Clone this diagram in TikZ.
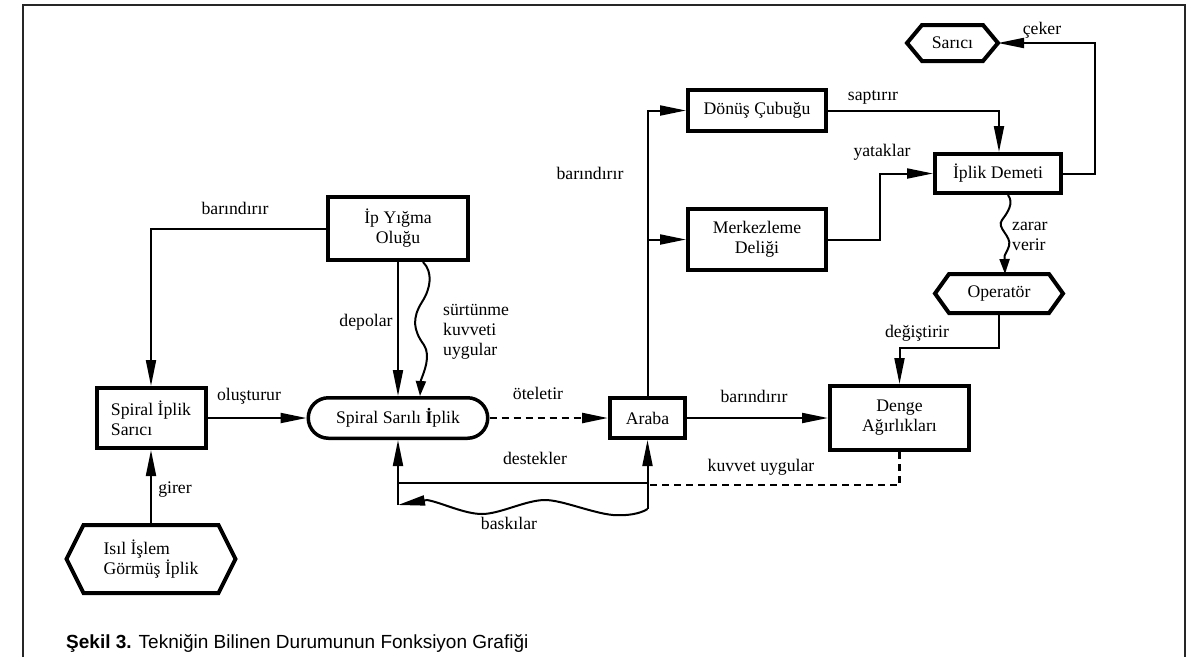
\documentclass[tikz,border=0pt]{standalone}
\usepackage{fontspec}
\setmainfont{Liberation Serif}
\newfontfamily\capfont{Liberation Sans}
\usetikzlibrary{arrows.meta,shapes.misc,calc}
\newcommand{\lblfont}{\fontsize{17.7}{20}\selectfont}
\newcommand{\hexdraw}[2]{\draw[boxline] (#1.west) -- ([xshift=#2]#1.north west) -- ([xshift=-#2]#1.north east) -- (#1.east) -- ([xshift=-#2]#1.south east) -- ([xshift=#2]#1.south west) -- cycle;}
\begin{document}
\begin{tikzpicture}[x=1pt,y=-1pt,
  every node/.style={font=\lblfont, inner sep=0pt},
  box/.style={draw, line width=4pt, align=center},
  hexn/.style={align=left, outer sep=0pt},
  boxline/.style={line width=4pt, line join=miter},
  conn/.style={line width=2pt, -{Triangle[length=26pt,width=10pt]}},
  plain/.style={line width=2pt},
  dashline/.style={line width=2.4pt, dash pattern=on 7pt off 5pt},
  wave/.style={line width=2pt, -{Triangle[length=15pt,width=10pt]}},
  wavelong/.style={line width=2pt, -{Triangle[length=27pt,width=10pt]}},
  frame/.style={line width=1.6pt, draw=black!85}
]
\useasboundingbox (0,0) rectangle (1200,657);
\draw[frame] (23,657) -- (23,5) -- (1185,5) -- (1185,657);

% nodes
\node[box, minimum width=140pt, minimum height=63pt] (iyo) at (398,228.5) {İp Yığma\\Oluğu};
\node[box, minimum width=109pt, minimum height=60pt, align=left] (sis) at (151,418) {Spiral İplik\\Sarıcı};
\node[hexn, minimum width=169pt, minimum height=68pt] (isil) at (151,559) {Isıl İşlem\\Görmüş İplik};
\hexdraw{isil}{17pt}
\node[draw, rounded rectangle, line width=3.5pt, minimum width=179.5pt, minimum height=40.5pt] (ssi) at (398,418) {Spiral Sarılı \textbf{İ}plik};
\node[box, minimum width=75pt, minimum height=40pt] (araba) at (647.5,418) {Araba};
\node[box, minimum width=139pt, minimum height=64pt] (denge) at (899.5,418) {Denge\\Ağırlıkları};
\node[box, minimum width=138pt, minimum height=41pt] (donus) at (757,110.5) {Dönüş Çubuğu};
\node[box, minimum width=138pt, minimum height=61pt] (merk) at (757,239.5) {Merkezleme\\Deliği};
\node[box, minimum width=126pt, minimum height=39pt] (demeti) at (998,173.5) {İplik Demeti};
\node[hexn, minimum width=91pt, minimum height=36pt] (saric) at (952.5,43) {Sarıcı};
\hexdraw{saric}{15pt}
\node[hexn, minimum width=128pt, minimum height=39pt] (oper) at (999,293.5) {Operatör};
\hexdraw{oper}{14pt}

% connectors
\draw[conn] (iyo.west) -| (sis.north);
\draw[conn] (iyo.south) -- (ssi.north);
\draw[wave] ([xshift=25pt]iyo.south) .. controls (433,272) and (431,288) .. (422,302) .. controls (412,318) and (413,330) .. (424,345) .. controls (431,356) and (424,372) .. (421,380) -- ([xshift=22pt]ssi.north);
\draw[conn] (sis.east) -- (ssi.west);
\draw[conn] (isil.north) -- (sis.south);
\draw[conn, dashline] (ssi.east) -- (araba.west);
\draw[conn] (araba.east) -- (denge.west);
\draw[conn] (araba.north) |- (donus.west);
\draw[conn] (araba.north |- merk.west) -- (merk.west);
\draw[conn] (donus.east) -| ([xshift=1pt]demeti.north);
\coordinate (mk) at ($(merk.east)+(52,0)$);
\draw[conn] (merk.east) -- (mk) |- (demeti.west);
\coordinate (dm) at ($(demeti.east)+(32,0)$);
\draw[conn] (demeti.east) -- (dm) |- (saric.east);
\draw[wave] ([xshift=10pt]demeti.south) .. controls (1014,203) and (1008,212) .. (1002,220) .. controls (996,228) and (1012,236) .. (1009,246) .. controls (1007,252) and (1005,254) .. (1004.5,256) -- ([xshift=6pt]oper.north);
\coordinate (op) at ($(oper.south)+(0,35)$);
\draw[conn] (oper.south) -- (op) -| (denge.north);
\coordinate (jl) at (398,483);
\coordinate (jr) at (647.5,483);
\coordinate (bl) at (398,505);
\coordinate (br) at (647.5,509);
\draw[conn] (bl) -- (ssi.south);
\draw[conn] (br) -- (araba.south);
\draw[plain] (jl) -- (jr);
\draw[dashline] (denge.south) |- ($(jr)+(0,2)$);
\draw[wavelong] (br) .. controls (640,514) and (626,516) .. (613,515) .. controls (592,513) and (562,500) .. (545,500) .. controls (526,500) and (500,514) .. (482,514) .. controls (464,514) and (440,502) .. (427,500) -- (bl);

% labels
\node (t1) at (235,208) {barındırır};
\node (t2) at (366,322) {depolar};
\node[align=left, anchor=west] (t3) at (443,332) {sürtünme\\kuvveti\\uygular};
\node (t4) at (249,396) {oluşturur};
\node (t5) at (175,490) {girer};
\node (t6) at (538,393) {öteletir};
\node (t7) at (754,396) {barındırır};
\node (t8) at (590,173) {barındırır};
\node (t9) at (873,97) {saptırır};
\node (t10) at (882,152) {yataklar};
\node (t11) at (1042,30) {çeker};
\node[align=left, anchor=west] (t12) at (1012,236) {zarar\\verir};
\node (t13) at (917,333) {değiştirir};
\node (t14) at (535,458) {destekler};
\node (t15) at (761,467) {kuvvet uygular};
\node (t16) at (509,523) {baskılar};

% caption
\node[anchor=west, font=\capfont\fontsize{19}{22}\selectfont] (cap) at (66,643) {\textbf{Şekil 3.} Tekniğin Bilinen Durumunun Fonksiyon Grafiği};
\end{tikzpicture}
\end{document}
